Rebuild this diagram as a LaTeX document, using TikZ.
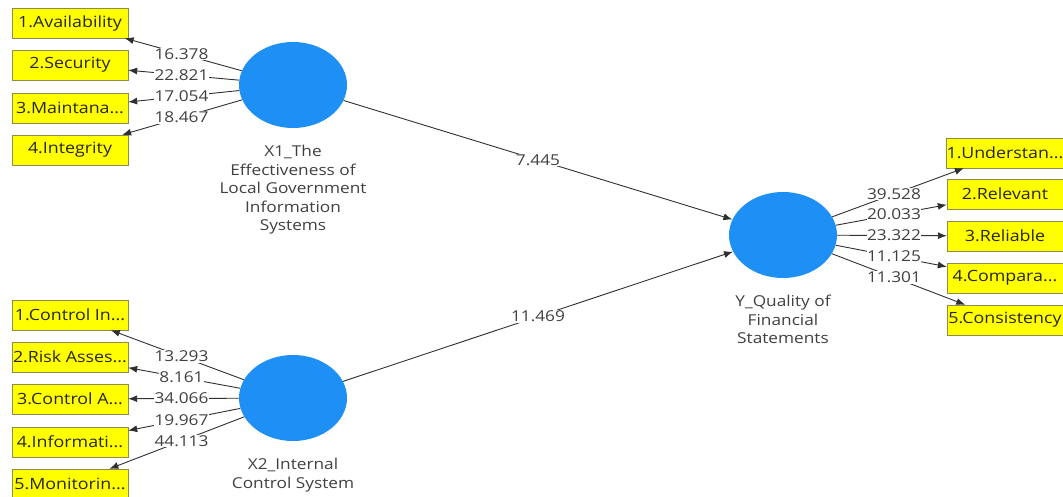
\documentclass[tikz,border=0pt]{standalone}
\usepackage{fontspec}
\setmainfont{Open Sans}[FakeStretch=1.15]
\usepackage{tikz}
\usetikzlibrary{
  arrows.meta,
  shapes.geometric,
  positioning,
  calc
}
\definecolor{plsLatent}{HTML}{1E90F5}
\definecolor{plsItem}{HTML}{FFFF00}
\definecolor{plsEdge}{HTML}{8C8C50}
\definecolor{plsLine}{HTML}{303030}
\definecolor{plsText}{HTML}{404040}
\tikzset{
  latent/.style={
    ellipse, fill=plsLatent, draw=none, minimum width=108, minimum height=86, inner sep=0pt
  },
  item/.style={
    draw=plsEdge, fill=plsItem, minimum width=116, minimum height=30, inner sep=1pt,
    font=\fontsize{15.5}{18}\selectfont, text=black!85
  },
  lvname/.style={font=\fontsize{15}{18.5}\selectfont, align=center, text=plsText, inner sep=0pt},
  load/.style={-{Latex[length=9pt, width=7pt]}, plsLine, line width=0.9pt},
  inner/.style={-{Latex[length=9pt, width=7pt]}, plsLine, line width=0.9pt},
  val/.style={font=\fontsize{15}{17}\selectfont, text=plsText, fill=white, inner sep=0.5pt}
}
\begin{document}
\begin{tikzpicture}[x=1pt, y=-1pt]
  \useasboundingbox (0,0) rectangle (1063,497);

  \node[latent] (x1) at (293,85) {};
  \node[latent] (x2) at (293,398) {};
  \node[latent] (y) at (783,235) {};
  \node[lvname, below=17pt of x1] (x1name) {X1\_The\\Effectiveness of\\Local Government\\Information\\Systems};
  \node[lvname, below=17pt of x2] (x2name) {X2\_Internal\\Control System};
  \node[lvname, below=17pt of y] (yname) {Y\_Quality of\\Financial\\Statements};

  \foreach \i/\yy/\txt/\v in {
    1/23/{1.Availability}/16.378,
    2/65/{2.Security}/22.821,
    3/108/{3.Maintana...}/17.054,
    4/150/{4.Integrity}/18.467}{
    \node[item] (a\i) at (70,\yy) {\txt};
    \draw[load] (x1) -- (a\i);
    \path (x1.center) -- (a\i.center) node[val, midway] {\v};
  }

  \foreach \i/\yy/\txt/\v in {
    1/315/{1.Control In...}/13.293,
    2/357/{2.Risk Asses...}/8.161,
    3/399/{3.Control A...}/34.066,
    4/442/{4.Informati...}/19.967,
    5/484/{5.Monitorin...}/44.113}{
    \node[item] (b\i) at (70,\yy) {\txt};
    \draw[load] (x2) -- (b\i);
    \path (x2.center) -- (b\i.center) node[val, midway] {\v};
  }

  \foreach \i/\yy/\txt/\v in {
    1/153/{1.Understan...}/39.528,
    2/194/{2.Relevant}/20.033,
    3/236/{3.Reliable}/23.322,
    4/278/{4.Compara...}/11.125,
    5/320/{5.Consistency}/11.301}{
    \node[item] (c\i) at (1005,\yy) {\txt};
    \draw[load] (y) -- (c\i);
    \path (y.center) -- (c\i.center) node[val, midway] {\v};
  }

  \draw[inner] (x1) -- (y) node[val, midway] {7.445};
  \draw[inner] (x2) -- (y) node[val, midway] {11.469};
\end{tikzpicture}
\end{document}
